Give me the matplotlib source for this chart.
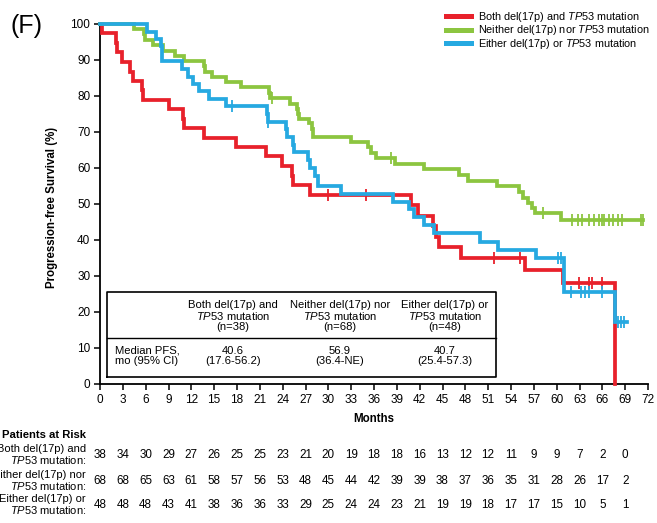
import numpy as np
import matplotlib
matplotlib.use("Agg")
import matplotlib.pyplot as plt
import matplotlib.transforms as mtransforms

plt.rcParams['font.family'] = ['Liberation Sans', 'DejaVu Sans']
plt.rcParams['mathtext.fontset'] = 'custom'
plt.rcParams['mathtext.rm'] = 'Liberation Sans'
plt.rcParams['mathtext.it'] = 'Liberation Sans:italic'
plt.rcParams['mathtext.bf'] = 'Liberation Sans:bold'

# Kaplan-Meier steps: event times (months) and survival (%) after each event
red_times = [0.3, 2.1, 2.2, 2.9, 4.0, 4.4, 5.5, 5.6, 9.0, 10.9, 11.1, 13.7, 17.9,
             21.8, 23.9, 25.2, 25.4, 27.6, 40.9, 41.8, 43.8, 44.2, 44.5, 47.4,
             55.9, 60.8, 67.6]
red_surv = [97.4, 94.7, 92.1, 89.5, 86.8, 84.2, 81.6, 78.9, 76.3, 73.7, 71.1, 68.4,
            65.8, 63.2, 60.5, 57.9, 55.3, 52.6, 49.7, 46.8, 43.9, 40.9, 38.0, 35.1,
            31.6, 28.1, 0.0]
red_censor = [30.0, 34.9, 51.8, 55.2, 62.9, 64.3, 64.7, 66.0]
red_end = 67.6

green_times = [4.5, 5.8, 5.9, 7.0, 8.3, 9.8, 11.1, 13.7, 13.8, 14.7, 16.5, 18.5,
               22.2, 22.4, 24.9, 25.9, 26.0, 26.2, 27.5, 27.8, 28.0, 33.0, 35.2,
               35.6, 36.3, 38.7, 42.6, 47.2, 48.3, 52.1, 55.1, 55.6, 56.2, 56.8,
               57.1, 60.6]
green_surv = [98.5, 97.1, 95.6, 94.1, 92.6, 91.2, 89.7, 88.2, 86.8, 85.3, 83.8, 82.4,
              80.9, 79.4, 77.9, 76.4, 75.0, 73.7, 72.6, 70.7, 68.7, 67.3, 65.8,
              64.3, 62.7, 61.2, 59.6, 58.0, 56.4, 54.9, 53.4, 51.8, 50.2, 48.8,
              47.4, 45.6]
green_censor = [22.6, 38.2, 58.2, 62.0, 62.8, 63.3, 64.3, 64.9, 65.6, 65.9, 66.2,
                66.9, 67.4, 68.0, 68.6, 71.1, 71.4]
green_end = 71.4

blue_times = [6.2, 7.3, 8.0, 8.1, 8.2, 10.8, 11.5, 12.2, 13.0, 14.3, 16.5, 22.0,
              22.1, 24.4, 24.6, 25.3, 25.5, 27.3, 27.6, 28.2, 28.6, 31.6, 38.5,
              40.6, 41.3, 42.6, 43.9, 49.9, 52.3, 57.3, 60.9, 61.0, 67.7]
blue_surv = [97.9, 95.8, 93.8, 91.7, 89.6, 87.5, 85.4, 83.3, 81.3, 79.2, 77.1, 75.0,
             72.8, 70.7, 68.6, 66.5, 64.4, 62.3, 60.1, 57.7, 55.0, 52.9, 50.6,
             48.6, 46.4, 44.2, 41.9, 39.5, 37.2, 34.9, 29.8, 25.6, 17.3]
blue_censor = [17.3, 22.1, 60.2, 60.6, 61.9, 63.2, 63.7, 64.3, 65.9, 68.1, 68.5, 68.9]
blue_end = 69.2

labels = [r"Both del(17p) and $\mathit{TP53}$ mutation",
          r"Neither del(17p) nor $\mathit{TP53}$ mutation",
          r"Either del(17p) or $\mathit{TP53}$ mutation"]
colors = ['#E8212B', '#8CC540', '#26A9E1']

# median PFS table
table_heads = [r"Both del(17p) and" "\n" r"$\mathit{TP53}$ mutation" "\n" "(n=38)",
               r"Neither del(17p) nor" "\n" r"$\mathit{TP53}$ mutation" "\n" "(n=68)",
               r"Either del(17p) or" "\n" r"$\mathit{TP53}$ mutation" "\n" "(n=48)"]
median_pfs = ["40.6\n(17.6-56.2)", "56.9\n(36.4-NE)", "40.7\n(25.4-57.3)"]

# patients at risk
risk_months = list(range(0, 73, 3))
risk_red = [38, 34, 30, 29, 27, 26, 25, 25, 23, 21, 20, 19, 18, 18, 16, 13, 12, 12, 11, 9, 9, 7, 2, 0]
risk_green = [68, 68, 65, 63, 61, 58, 57, 56, 53, 48, 45, 44, 42, 39, 39, 38, 37, 36, 35, 31, 28, 26, 17, 2]
risk_blue = [48, 48, 48, 43, 41, 38, 36, 36, 33, 29, 25, 24, 24, 23, 21, 19, 19, 18, 17, 17, 15, 10, 5, 1]
risk_labels = [r"Both del(17p) and" "\n" r"$\mathit{TP53}$ mutation:",
               r"Neither del(17p) nor" "\n" r"$\mathit{TP53}$ mutation:",
               r"Either del(17p) or" "\n" r"$\mathit{TP53}$ mutation:"]

W, H = 657, 523
fig = plt.figure(figsize=(W / 100, H / 100), dpi=100)
ax = fig.add_axes([100 / W, (H - 384) / H, 548 / W, 360 / H])

series = [(red_times, red_surv, red_censor, red_end),
          (green_times, green_surv, green_censor, green_end),
          (blue_times, blue_surv, blue_censor, blue_end)]

for (t, s, cens, end), col, lab in zip(series, colors, labels):
    tt = np.array([0.0] + t + [end])
    ss = np.array([100.0] + s + [s[-1]])
    ax.step(tt, ss, where='post', color=col, lw=2.7, label=lab,
            clip_on=False, solid_joinstyle='miter', zorder=3)
    ct = np.array(cens)
    idx = np.searchsorted(tt, ct, side='right') - 1
    ax.plot(ct, ss[idx], ls='none', marker='|', ms=9, mew=1.3, color=col,
            clip_on=False, zorder=3)

ax.set_xlim(0, 72)
ax.set_ylim(0, 100)
ax.set_xticks(range(0, 73, 3))
ax.set_yticks(range(0, 101, 10))
for side in ['top', 'right']:
    ax.spines[side].set_visible(False)
for side in ['left', 'bottom']:
    ax.spines[side].set_linewidth(1.3)
ax.tick_params(direction='out', length=4, width=1.1, labelsize=8.5, pad=3)
ax.set_xlabel('Months', fontsize=8.3, fontweight='bold', labelpad=5)
fig.text(52 / W, 1 - 207 / H, 'Progression-free Survival (%)', rotation=90,
         fontsize=8.3, fontweight='bold', ha='center', va='center')

# median table box
def px_x(p):
    return (p - 100) / 548 * 72

def px_y(p):
    return (384 - p) / 360 * 100

box_l, box_r, box_t, box_b, box_mid = px_x(107), px_x(496), px_y(292), px_y(377), px_y(338)
ax.plot([box_l, box_r, box_r, box_l, box_l], [box_b, box_b, box_t, box_t, box_b],
        color='black', lw=1.2, zorder=4)
ax.plot([box_l, box_r], [box_mid, box_mid], color='black', lw=1.0, zorder=4)
col_x = [px_x(233), px_x(340), px_x(445)]
for cx, head, med in zip(col_x, table_heads, median_pfs):
    ax.text(cx, px_y(316), head, ha='center', va='center', fontsize=8.1,
            linespacing=1.05, zorder=4)
    ax.text(cx, px_y(356), med, ha='center', va='center', fontsize=8.1,
            linespacing=1.05, zorder=4)
ax.text(px_x(115), px_y(356), "Median PFS,\nmo (95% CI)", ha='left', va='center',
        fontsize=8.1, linespacing=1.05, zorder=4)

fig.legend(loc='upper left', bbox_to_anchor=(446 / W, 1 - 10 / H), frameon=False,
           fontsize=7.8, handlelength=2.35, handletextpad=0.65, labelspacing=-0.05,
           borderpad=0, borderaxespad=0)
for h in fig.legends[0].legend_handles:
    h.set_linewidth(3.6)

fig.text(11 / W, 1 - 26 / H, '(F)', fontsize=18, ha='left', va='center')

# patients at risk rows
trans = mtransforms.blended_transform_factory(ax.transData, fig.transFigure)
fig.text(86 / W, 1 - 435 / H, 'Patients at Risk', fontsize=8.1, fontweight='bold',
         ha='right', va='center')
row_y = [455, 481, 505]
for ry, lab, vals in zip(row_y, risk_labels, [risk_red, risk_green, risk_blue]):
    fig.text(86 / W, 1 - ry / H, lab, fontsize=8.0, ha='right', va='center',
             linespacing=1.05)
    for m, v in zip(risk_months, vals):
        ax.text(m, 1 - ry / H, str(v), transform=trans, fontsize=8.4,
                ha='center', va='center', clip_on=False)

fig.savefig('out.png', dpi=100)
